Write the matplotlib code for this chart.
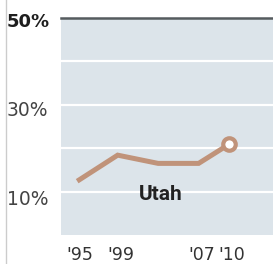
import matplotlib
matplotlib.use("Agg")
import matplotlib.pyplot as plt
from matplotlib.lines import Line2D
import matplotlib.transforms as mtransforms

years = [1995, 1999, 2003, 2007, 2010]
values = [12.4, 18.4, 16.5, 16.5, 20.9]
xtick_years = [1995, 1999, 2007, 2010]
xtick_labels = ["'95", "'99", "'07", "'10"]
ytick_values = [50, 30, 10]
ytick_labels = ["50%", "30%", "10%"]
grid_values = [10, 20, 30, 40]
state = "Utah"

W, H = 273, 264
fig = plt.figure(figsize=(W / 100, H / 100), dpi=100)
fig.patch.set_facecolor("white")
ax = fig.add_axes([61 / W, (H - 235) / H, (W - 61) / W, (235 - 18) / H])
ax.set_facecolor("#dce4ea")
for s in ax.spines.values():
    s.set_visible(False)
ax.set_xlim(1993.4, 2014.35)
ax.set_ylim(0, 50)
ax.set_xticks([])
ax.set_yticks([])

for g in grid_values:
    ax.axhline(g, color="white", lw=1.6, zorder=1)
ax.axhline(50, color="#555b5e", lw=1.8, zorder=3, clip_on=False)

color = "#c0937a"
ax.plot(years, values, color=color, lw=3.6, solid_capstyle="butt", solid_joinstyle="miter", zorder=4)
ax.plot(years[-1:], values[-1:], marker="o", ms=9, mfc="white", mec=color, mew=3, zorder=5)

ax.text(2003.3, 8.0, state, fontsize=15, fontweight="bold", color="#222222",
        ha="center", va="baseline", family=["Roboto", "DejaVu Sans"])

# y labels
trans_y = mtransforms.blended_transform_factory(fig.transFigure, ax.transData)
offsets = {50: -2.1, 30: -2.6, 10: -3.2}
for v, lab in zip(ytick_values, ytick_labels):
    ax.text(7 / W, v + offsets[v], lab, transform=trans_y, ha="left", va="baseline",
            fontsize=13 if v == 50 else 13.5,
            color="#1e1e1e" if v == 50 else "#444444",
            fontweight="bold" if v == 50 else "normal",
            family=["DejaVu Sans"], clip_on=False)

# x labels
trans_x = mtransforms.blended_transform_factory(ax.transData, fig.transFigure) + \
    mtransforms.ScaledTranslation(3 / 100, 0, fig.dpi_scale_trans)
for x, lab in zip(xtick_years, xtick_labels):
    ax.text(x, (H - 259.5) / H, lab, transform=trans_x, ha="center", va="baseline",
            fontsize=12.5, color="#333333", family=["DejaVu Sans"], clip_on=False)

fig.add_artist(Line2D([6 / W, 6 / W], [0, 1], transform=fig.transFigure, color="#cccccc", lw=1))

fig.savefig("out.png", dpi=100)
